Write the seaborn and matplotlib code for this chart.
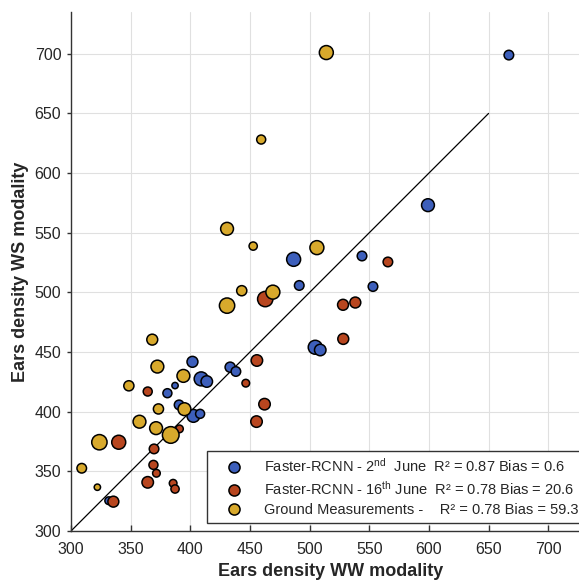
import numpy as np
import pandas as pd
import matplotlib
matplotlib.use("Agg")
import matplotlib.pyplot as plt
import seaborn as sns
from matplotlib.lines import Line2D

# ---- data ----
blue_x = [331.6, 380.8, 387.2, 401.8, 390.6, 402.6, 408.2, 409.1, 413.8, 433.4,
          438.2, 486.6, 491.3, 504.7, 508.9, 543.9, 553.1, 599.2, 667.0]
blue_y = [325.4, 415.5, 421.9, 441.8, 405.7, 396.5, 398.2, 427.5, 425.3, 437.3,
          433.7, 527.7, 505.8, 454.0, 451.7, 530.5, 504.9, 573.1, 698.9]
blue_r = [4.0, 4.7, 3.3, 5.7, 5.0, 6.7, 4.7, 7.3, 6.0, 5.3,
          5.0, 7.3, 5.0, 7.3, 6.0, 5.0, 5.0, 6.7, 5.0]

red_x = [335.5, 340.0, 364.3, 369.6, 369.1, 371.6, 364.3, 385.6, 387.2, 390.9,
         455.8, 446.5, 462.2, 455.5, 462.8, 528.0, 538.3, 528.2, 565.6]
red_y = [324.6, 374.4, 416.9, 368.8, 355.4, 348.4, 340.8, 340.0, 335.2, 385.6,
         442.9, 423.9, 406.3, 391.7, 494.4, 489.6, 491.5, 461.0, 525.5]
red_r = [5.7, 7.3, 4.7, 5.0, 4.7, 4.0, 6.0, 4.0, 4.3, 4.0,
         6.0, 4.0, 6.0, 6.0, 8.0, 5.7, 5.7, 5.7, 5.0]

gm_x = [309.0, 322.1, 323.8, 348.5, 368.1, 357.4, 372.4, 373.3, 371.3, 383.6,
        394.2, 395.1, 430.8, 443.1, 469.2, 459.4, 430.8, 452.7, 514.0, 506.1]
gm_y = [352.6, 336.7, 374.4, 421.7, 460.4, 391.6, 437.8, 402.3, 386.2, 380.5,
        430.0, 402.1, 488.9, 501.4, 500.2, 628.1, 553.3, 538.8, 701.0, 537.5]
gm_r = [5.0, 3.3, 8.0, 5.3, 5.7, 6.7, 6.7, 5.3, 6.7, 8.7,
        6.7, 6.7, 8.0, 5.3, 7.3, 4.7, 6.7, 4.3, 7.3, 7.3]

series = ["Faster-RCNN - 2nd June", "Faster-RCNN - 16th June", "Ground Measurements"]
legend_labels = [
    r"Faster-RCNN - 2$^{\mathregular{nd}}$  June  R² = 0.87 Bias = 0.6",
    r"Faster-RCNN - 16$^{\mathregular{th}}$ June  R² = 0.78 Bias = 20.6",
    "Ground Measurements -    R² = 0.78 Bias = 59.3",
]
colors = ["#3d5fbb", "#b8461f", "#d8a92c"]
x_ticks = [300, 350, 400, 450, 500, 550, 600, 650, 700]
y_ticks = [300, 350, 400, 450, 500, 550, 600, 650, 700]
ref_line = [300, 650]

df = pd.concat([
    pd.DataFrame({"ww": blue_x, "ws": blue_y, "r": blue_r, "series": series[0]}),
    pd.DataFrame({"ww": red_x, "ws": red_y, "r": red_r, "series": series[1]}),
    pd.DataFrame({"ww": gm_x, "ws": gm_y, "r": gm_r, "series": series[2]}),
], ignore_index=True)
df["area"] = np.square(df["r"])

# ---- plot ----
sns.set_style("white")
plt.rcParams["font.family"] = ["Liberation Sans", "DejaVu Sans"]
plt.rcParams["mathtext.fontset"] = "custom"
plt.rcParams["mathtext.rm"] = "Liberation Sans"
plt.rcParams["mathtext.it"] = "Liberation Sans:italic"

fig = plt.figure(figsize=(5.79, 5.83), dpi=100)
ax = fig.add_axes([71 / 579, 52 / 583, 519 / 579, 519 / 583])

amin, amax = df["area"].min(), df["area"].max()
k = 1.9
sns.scatterplot(data=df, x="ww", y="ws", hue="series", palette=colors,
                hue_order=series, size="area", size_norm=(amin, amax),
                sizes=(k * amin, k * amax), edgecolor="black", linewidth=1.1,
                alpha=1, legend=False, ax=ax, zorder=3)

ax.plot(ref_line, ref_line, color="black", lw=0.9, zorder=2)

ax.set_xlim(300, 735)
ax.set_ylim(300, 735)
ax.set_xticks(x_ticks)
ax.set_yticks(y_ticks)
ax.grid(True, color="#e0e0e0", lw=0.8)
ax.set_axisbelow(True)
for s in ["top", "right"]:
    ax.spines[s].set_visible(False)
for s in ["left", "bottom"]:
    ax.spines[s].set_color("#333333")
    ax.spines[s].set_linewidth(1.0)
ax.tick_params(axis="x", direction="in", length=4, width=1, color="#333333",
               labelsize=11.5, pad=8, bottom=True)
ax.tick_params(axis="y", direction="out", length=3, width=1, color="#333333",
               labelsize=11.5, pad=4, left=True)
ax.set_xlabel("Ears density WW modality", fontsize=13, fontweight="bold", labelpad=4)
ax.set_ylabel("Ears density WS modality", fontsize=13, fontweight="bold", labelpad=4)

handles = [Line2D([], [], ls="", marker="o", markerfacecolor=c, markeredgecolor="black",
                  markeredgewidth=1.1, markersize=8) for c in colors]
leg = ax.legend(handles, legend_labels, loc="lower left",
                bbox_to_anchor=((207 - 71) / 519, (531 - 523) / 519),
                frameon=True, fancybox=False, edgecolor="#333333", framealpha=1,
                fontsize=10.5, handletextpad=0.65, labelspacing=0.35, borderpad=0.42,
                handlelength=2.85, borderaxespad=0)
leg.get_frame().set_linewidth(1.0)

fig.savefig("out.png", dpi=100)
